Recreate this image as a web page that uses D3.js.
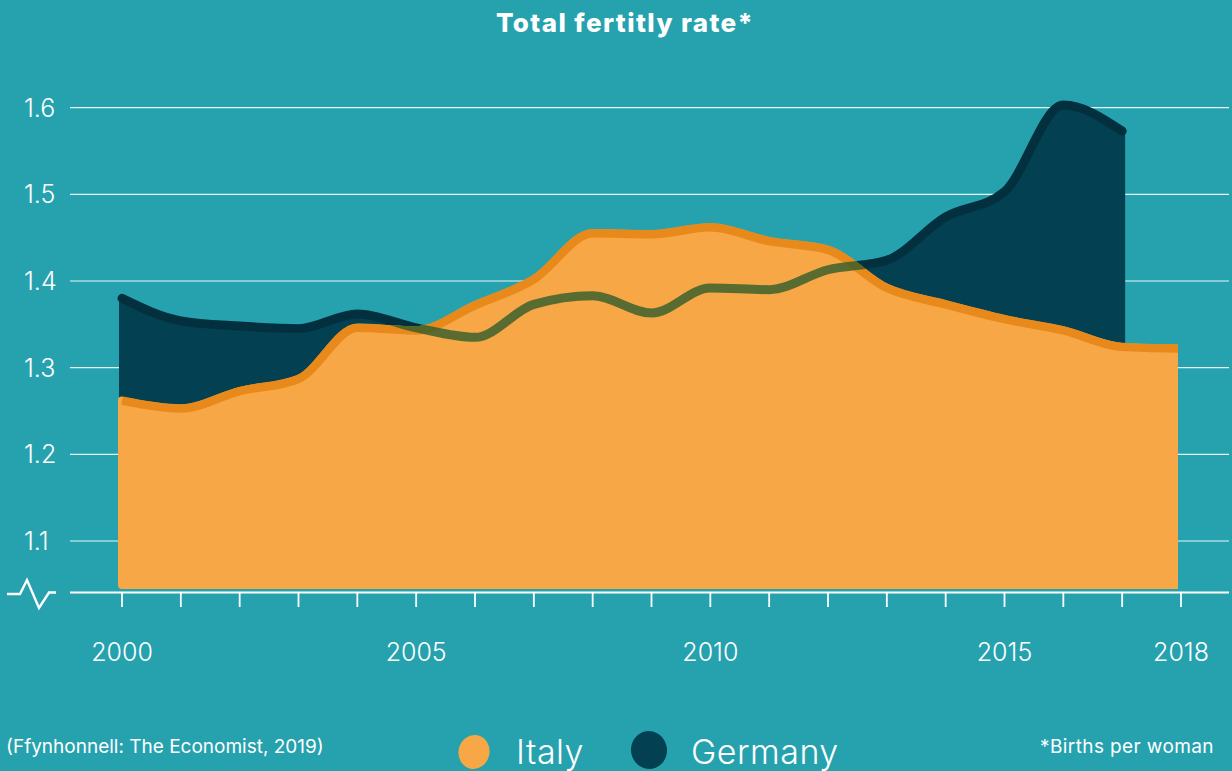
<!DOCTYPE html>
<html>
<head>
<meta charset="utf-8">
<script src="https://cdn.jsdelivr.net/npm/d3@7"></script>
<style>
  html, body { margin: 0; padding: 0; background: #26a2af; }
  svg { display: block; }
  text { font-family: Inter, Lato, "Open Sans", sans-serif; fill: #ffffff; }
</style>
</head>
<body>
<svg id="chart" width="1232" height="771"></svg>
<script>
// ---------------- data ----------------
const years = [2000, 2001, 2002, 2003, 2004, 2005, 2006, 2007, 2008, 2009,
               2010, 2011, 2012, 2013, 2014, 2015, 2016, 2017, 2018];
const italyValues = [1.262, 1.253, 1.273, 1.287, 1.346, 1.343, 1.372, 1.402, 1.455, 1.454,
                     1.462, 1.446, 1.436, 1.392, 1.373, 1.356, 1.343, 1.324, 1.322];
const germanyYears = [2000, 2001, 2002, 2003, 2004, 2005, 2006, 2007, 2008, 2009,
                      2010, 2011, 2012, 2013, 2014, 2015, 2016, 2017];
const germanyValues = [1.380, 1.354, 1.348, 1.345, 1.362, 1.346, 1.335, 1.373, 1.383, 1.363,
                       1.392, 1.390, 1.413, 1.424, 1.474, 1.503, 1.603, 1.573];
const yTickValues = [1.1, 1.2, 1.3, 1.4, 1.5, 1.6];
const yTickLabels = ["1.1", "1.2", "1.3", "1.4", "1.5", "1.6"];
const xTickValues = years;
const xLabelYears = [2000, 2005, 2010, 2015, 2018];
const seriesNames = ["Italy", "Germany"];
const titleText = "Total fertitly rate*";
const sourceText = "(Ffynhonnell: The Economist, 2019)";
const noteText = "*Births per woman";

// ---------------- setup ----------------
const svg = d3.select("#chart");
const W = 1232, H = 771;
const bg = "#26a2af";
const italyFill = "#f7a745", italyLine = "#e8891b";
const germanyFill = "#034152", germanyLine = "#03303f";

svg.append("rect").attr("width", W).attr("height", H).attr("fill", bg);

const x = d3.scaleLinear().domain([2000, 2018]).range([122, 1181]);
const y = d3.scaleLinear().domain([1.1, 1.6]).range([541, 107.7]);
const baseY = 585;

const italy = years.map((yr, i) => ({ yr, v: italyValues[i] }));
const germany = germanyYears.map((yr, i) => ({ yr, v: germanyValues[i] }));

// grid lines
svg.append("g").selectAll("line.grid").data(yTickValues).join("line")
  .attr("x1", 70).attr("x2", 1229)
  .attr("y1", d => y(d)).attr("y2", d => y(d))
  .attr("stroke", "#ffffff").attr("stroke-opacity", 0.9).attr("stroke-width", 1.2);

// y labels
svg.append("g").selectAll("text").data(yTickValues).join("text")
  .attr("x", 24).attr("y", d => y(d))
  .attr("dy", "0.36em")
  .attr("font-size", 25).attr("font-weight", 300)
  .text((d, i) => yTickLabels[i]);

// area & line generators
const curve = d3.curveMonotoneX;
const area = d3.area().x(d => x(d.yr)).y0(baseY).y1(d => y(d.v)).curve(curve);
const line = d3.line().x(d => x(d.yr)).y(d => y(d.v)).curve(curve);

const defs = svg.append("defs");
defs.append("clipPath").attr("id", "italyClip")
  .append("rect").attr("x", 0).attr("y", 0).attr("width", 1178).attr("height", H);

// Germany area + line
svg.append("path").attr("d", area(germany))
  .attr("fill", germanyFill).attr("stroke", germanyFill)
  .attr("stroke-width", 6).attr("stroke-linejoin", "round");
svg.append("path").attr("d", line(germany))
  .attr("fill", "none").attr("stroke", germanyLine)
  .attr("stroke-width", 9).attr("stroke-linecap", "round").attr("stroke-linejoin", "round");

// Italy area + line
const italyG = svg.append("g").attr("clip-path", "url(#italyClip)");
italyG.append("path").attr("d", area(italy))
  .attr("fill", italyFill).attr("stroke", italyFill)
  .attr("stroke-width", 8).attr("stroke-linejoin", "round");
italyG.append("path").attr("d", line(italy))
  .attr("fill", "none").attr("stroke", italyLine)
  .attr("stroke-width", 8.5).attr("stroke-linecap", "butt").attr("stroke-linejoin", "round");

// mask of Italy region, for Germany line seen through it
const mask = defs.append("mask").attr("id", "italyMask")
  .attr("maskUnits", "userSpaceOnUse").attr("x", 0).attr("y", 0).attr("width", W).attr("height", H);
mask.append("path").attr("d", area(italy)).attr("fill", "#fff")
  .attr("stroke", "#fff").attr("stroke-width", 8).attr("stroke-linejoin", "round");
mask.append("path").attr("d", line(italy)).attr("fill", "none")
  .attr("stroke", "#fff").attr("stroke-width", 8.5);

svg.append("path").attr("d", line(germany))
  .attr("mask", "url(#italyMask)")
  .attr("fill", "none").attr("stroke", "#2f5c2a").attr("stroke-opacity", 0.8)
  .attr("stroke-width", 9).attr("stroke-linecap", "round").attr("stroke-linejoin", "round");

// x axis line + break symbol
const axisY = 592.5;
svg.append("line").attr("x1", 70).attr("x2", 1229).attr("y1", axisY).attr("y2", axisY)
  .attr("stroke", "#fff").attr("stroke-width", 2);
svg.append("path").attr("d", "M7,594 H20 L27,580 L39,608 L49,592.5 H56")
  .attr("fill", "none").attr("stroke", "#fff").attr("stroke-width", 2.4)
  .attr("stroke-linejoin", "miter");

// ticks
svg.append("g").selectAll("line").data(xTickValues).join("line")
  .attr("x1", d => x(d)).attr("x2", d => x(d))
  .attr("y1", axisY).attr("y2", 607)
  .attr("stroke", "#fff").attr("stroke-width", 1.8);

// x labels
svg.append("g").selectAll("text").data(xLabelYears).join("text")
  .attr("x", d => x(d)).attr("y", 661)
  .attr("text-anchor", "middle")
  .attr("font-size", 25).attr("font-weight", 300)
  .text(d => d);

// title
svg.append("text").attr("x", 625).attr("y", 32)
  .attr("text-anchor", "middle").attr("font-size", 26).attr("font-weight", 800)
  .attr("letter-spacing", 1.4)
  .text(titleText);

// source and note
svg.append("text").attr("x", 6).attr("y", 753)
  .attr("font-size", 19).attr("font-weight", 400).text(sourceText);
svg.append("text").attr("x", 1214).attr("y", 753).attr("text-anchor", "end")
  .attr("font-size", 19).attr("font-weight", 400).attr("letter-spacing", 0.4).text(noteText);

// legend
const legend = svg.append("g");
const legendItems = [
  { name: seriesNames[0], color: italyFill, cx: 474, cy: 752, rx: 15.5, ry: 17, rot: 12, tx: 516 },
  { name: seriesNames[1], color: germanyFill, cx: 649, cy: 750, rx: 18, ry: 19, rot: -10, tx: 691 }
];
legendItems.forEach(it => {
  legend.append("ellipse")
    .attr("transform", `translate(${it.cx},${it.cy}) rotate(${it.rot})`)
    .attr("rx", it.rx).attr("ry", it.ry).attr("fill", it.color);
  legend.append("text").attr("x", it.tx).attr("y", 764)
    .attr("font-size", 34).attr("font-weight", 300).attr("letter-spacing", 0.5).text(it.name);
});
</script>
</body>
</html>
